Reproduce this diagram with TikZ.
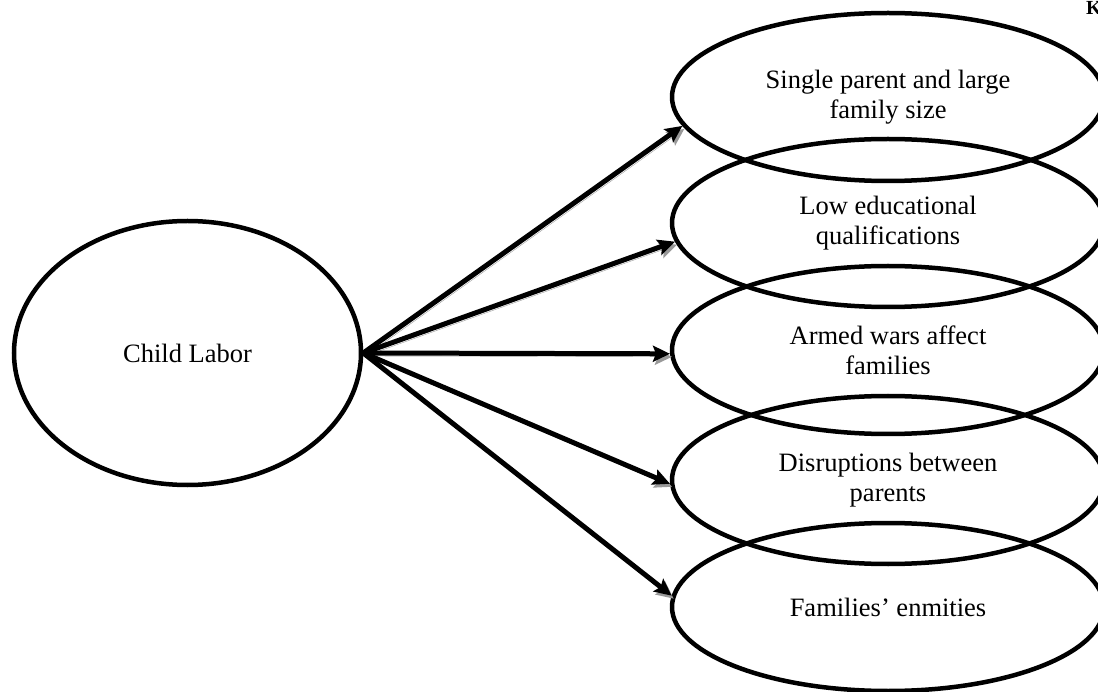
\documentclass[tikz,border=0pt]{standalone}
\usepackage{fontspec}
\setmainfont{Liberation Serif}
\usetikzlibrary{shapes.geometric,arrows.meta}
\begin{document}
\begin{tikzpicture}[x=1pt,y=-1pt,
  oval/.style={ellipse, draw=black, line width=4.5pt, inner sep=0pt, align=center,
    font=\fontsize{26.5}{30}\selectfont},
  cause/.style={oval, minimum width=432pt, minimum height=168pt},
  arr/.style={line width=5pt, -{Stealth[length=17pt,width=16pt,inset=3pt]},
    preaction={draw=black!40, transform canvas={shift={(2pt,-3pt)}}}}
]
\useasboundingbox (0,0) rectangle (1098,692);
\node[oval, minimum width=347pt, minimum height=264pt] (cl) at (187.5,353) {Child Labor};
\node[cause] (e1) at (888,97) {Single parent and large\\family size};
\node[cause] (e2) at (888,223) {Low educational\\qualifications};
\node[cause] (e3) at (888,350) {Armed wars affect\\families};
\node[cause] (e4) at (888,480) {Disruptions between\\parents};
\node[cause] (e5) at (888,607) {Families’ enmities};
\node[font=\fontsize{20}{20}\selectfont\bfseries, anchor=base west, inner sep=0pt] (k) at (1086,15) {K};
\draw[arr] (cl.east) -- (e1.188);
\draw[arr] (cl.east) -- (e2.185);
\draw[arr] (cl.east) -- (e3.181);
\draw[arr] (cl.east) -- (e4.181);
\draw[arr] (cl.east) -- (e5.177);
\end{tikzpicture}
\end{document}
